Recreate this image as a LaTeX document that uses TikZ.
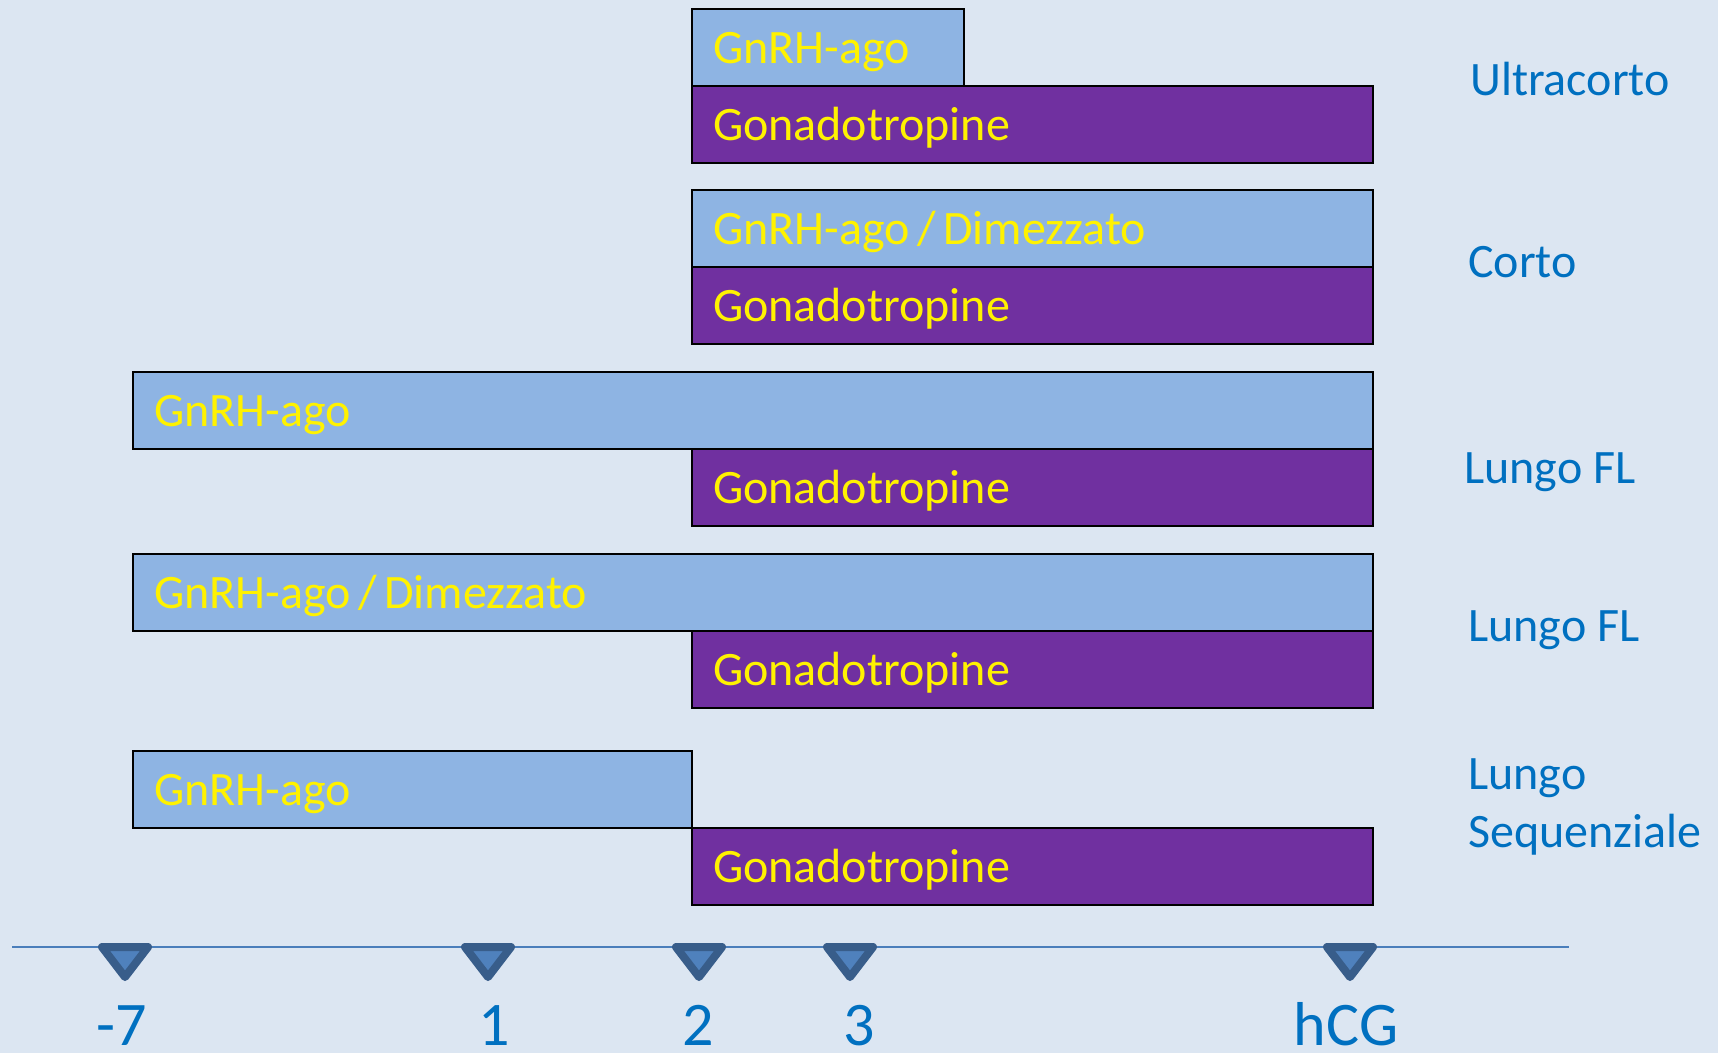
\documentclass[tikz,border=0pt]{standalone}
\usepackage{fontspec}
\setmainfont{Carlito}
\usepackage{tikz}
\usetikzlibrary{positioning}
\definecolor{mybg}{RGB}{220,230,242}
\definecolor{myagoblue}{RGB}{142,180,227}
\definecolor{mypurple}{RGB}{112,48,160}
\definecolor{mytextblue}{RGB}{0,112,192}
\definecolor{myaxis}{RGB}{74,126,187}
\definecolor{mymarkfill}{RGB}{79,129,189}
\definecolor{mymarkdraw}{RGB}{56,93,138}
\newcommand{\barfont}{\fontsize{48}{57}\selectfont}
\newcommand{\dayfont}{\fontsize{62}{70}\selectfont}
\newcommand{\slashsep}{\hspace{7.5pt}/\hspace{7.5pt}}
\tikzstyle{bar}=[draw=black,line width=2pt,minimum height=77pt,inner sep=0pt,inner xsep=21pt,outer sep=0pt,anchor=north west,font=\barfont,text=yellow,text height=31pt,text depth=0pt,align=left]
\tikzstyle{agobar}=[bar,fill=myagoblue]
\tikzstyle{gonbar}=[bar,fill=mypurple]
\tikzstyle{protocol}=[font=\barfont,text=mytextblue,inner sep=0pt,anchor=base west,align=left]
\tikzstyle{day}=[font=\dayfont,text=mytextblue,inner sep=0pt,anchor=base]
\tikzstyle{marker}=[draw=mymarkdraw,fill=mymarkfill,line width=8pt,line join=round]
\tikzstyle{axis}=[draw=myaxis,line width=2pt]

\begin{document}
\begin{tikzpicture}[x=1pt,y=-1pt]
\fill[mybg] (0,0) rectangle (1718,1053);
\useasboundingbox (0,0) rectangle (1718,1053);
% Ultracorto
\node [agobar, text width=230pt] (ago1) at (692,9) {GnRH-ago};
\node [gonbar, text width=639pt, below right=0pt and 0pt of ago1.south west] (gon1) {Gonadotropine};
% Corto
\node [agobar, text width=639pt] (ago2) at (692,190) {GnRH-ago\slashsep Dimezzato};
\node [gonbar, text width=639pt, below right=0pt and 0pt of ago2.south west] (gon2) {Gonadotropine};
% Lungo FL
\node [agobar, text width=1198pt] (ago3) at (133,372) {GnRH-ago};
\node [gonbar, text width=639pt] (gon3) at (ago3.south -| gon2.west) {Gonadotropine};
% Lungo FL
\node [agobar, text width=1198pt] (ago4) at (133,554) {GnRH-ago\slashsep Dimezzato};
\node [gonbar, text width=639pt] (gon4) at (ago4.south -| gon3.west) {Gonadotropine};
% Lungo Sequenziale
\node [agobar, text width=517pt] (ago5) at (133,751) {GnRH-ago};
\node [gonbar, text width=639pt, below right=0pt and 0pt of ago5.south east] (gon5) {Gonadotropine};

\node [protocol] (ultracorto) at (1470,95) {Ultracorto};
\node [protocol] (corto) at (1468,277) {Corto};
\node [protocol] (lungofl) at (1464,483) {Lungo FL};
\node [protocol] (lungofldim) at (1468,641) {Lungo FL};
\node [protocol, anchor=north west] (lungoseq) at (1468,758) {Lungo\\[1pt]Sequenziale};

% asse dei giorni
\coordinate (axisstart) at (12,947);
\coordinate (axisend) at (1569,947);
\draw [axis] (axisstart) -- (axisend);
\draw [marker] (102,947) -- (148,947) -- (125,977) -- cycle;
\draw [marker] (465,947) -- (511,947) -- (488,977) -- cycle;
\draw [marker] (676,947) -- (722,947) -- (699,977) -- cycle;
\draw [marker] (827,947) -- (873,947) -- (850,977) -- cycle;
\draw [marker] (1327,947) -- (1373,947) -- (1350,977) -- cycle;
\node [day] (dmeno7) at (122,1045) {-7};
\node [day] (d1) at (494,1045) {1};
\node [day] (d2) at (698,1045) {2};
\node [day] (d3) at (859,1045) {3};
\node [day] (hcg) at (1346,1045) {hCG};
\end{tikzpicture}
\end{document}
